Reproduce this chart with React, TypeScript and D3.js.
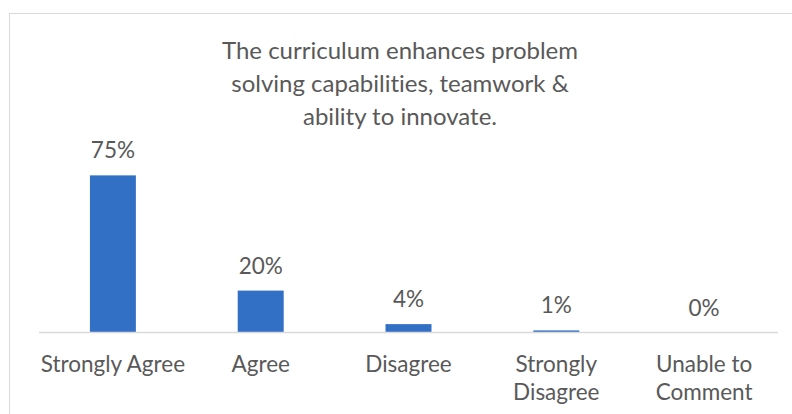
import React from "react";
import * as d3 from "d3";

const categories = ["Strongly Agree", "Agree", "Disagree", "Strongly Disagree", "Unable to Comment"];
const tickLabels = [["Strongly Agree"], ["Agree"], ["Disagree"], ["Strongly", "Disagree"], ["Unable to", "Comment"]];
const values = [75, 20, 4, 1, 0];
const titleLines = ["The curriculum enhances problem", "solving capabilities, teamwork &", "ability to innovate."];

const width = 792;
const height = 414;
const margin = { left: 39, right: 14, axisY: 332.5 };
const font = "Lato, 'Open Sans', sans-serif";
const textColor = "#595959";

const App = () => {
  const x = d3
    .scaleBand<string>()
    .domain(categories)
    .range([margin.left, width - margin.right])
    .padding(0);
  const y = d3.scaleLinear().domain([0, 100]).range([margin.axisY, 123]);
  const barW = x.bandwidth() * 0.311;

  return (
    <svg
      width={width}
      height={height}
      style={{ position: "absolute", left: 0, top: 0, background: "#fff", fontVariantLigatures: "none" }}
      fontFamily={font}
    >
      <rect x={9.5} y={13.5} width={800} height={420} fill="#fff" stroke="#d9d9d9" strokeWidth={1} />

      <g fill={textColor} fontSize={24} textAnchor="middle">
        {titleLines.map((t, i) => (
          <text key={i} x={400} y={59 + i * 33}>
            {t}
          </text>
        ))}
      </g>

      {values.map((v, i) => {
        const cx = x(categories[i])! + x.bandwidth() / 2;
        return (
          <g key={categories[i]}>
            <rect x={cx - barW / 2} y={y(v)} width={barW} height={y(0) - y(v)} fill="#3170c4" />
            <text x={cx} y={y(v) - 17} textAnchor="middle" fontSize={22.5} fill={textColor}>
              {v + "%"}
            </text>
          </g>
        );
      })}

      <line
        x1={margin.left}
        x2={width - margin.right}
        y1={margin.axisY}
        y2={margin.axisY}
        stroke="#d9d9d9"
        strokeWidth={1.5}
      />

      <g fill={textColor} fontSize={22.5} textAnchor="middle">
        {tickLabels.map((lines, i) => {
          const cx = x(categories[i])! + x.bandwidth() / 2;
          return (
            <text key={i} x={cx} y={371.5}>
              {lines.map((l, j) => (
                <tspan key={j} x={cx} dy={j === 0 ? 0 : 28.5}>
                  {l}
                </tspan>
              ))}
            </text>
          );
        })}
      </g>
    </svg>
  );
};

export default App;
